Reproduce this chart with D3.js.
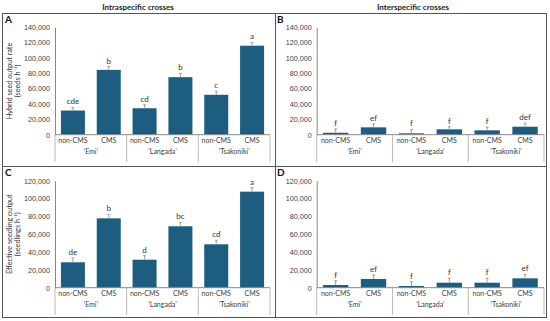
<!DOCTYPE html>
<html>
<head>
<meta charset="utf-8">
<script src="https://cdn.jsdelivr.net/npm/d3@7"></script>
<style>
  body { margin: 0; background: #fff; }
  svg { font-family: Lato, "Open Sans", sans-serif; }
  .tick text { fill: #404040; font-size: 7.2px; }
</style>
</head>
<body>
<script>
// categories
var cultivars = ["\u2018Emi\u2019", "\u2018Langada\u2019", "\u2018Tsakoniki\u2019"];
var types = ["non-CMS", "CMS"];

// A: hybrid seed output rate, intraspecific
var seedIntra = [31500, 84500, 34500, 75000, 52000, 116000];
var seedIntraErr = [4000, 4300, 4500, 5000, 4500, 4500];
var seedIntraLet = ["cde", "b", "cd", "b", "c", "a"];
// B: hybrid seed output rate, interspecific
var seedInter = [2500, 9600, 1800, 7000, 5700, 10400];
var seedInterErr = [5000, 4400, 5000, 3500, 4000, 4400];
var seedInterLet = ["f", "ef", "f", "f", "f", "def"];
// C: effective seedling output, intraspecific
var seedlIntra = [28500, 77800, 31400, 68900, 48700, 107700];
var seedlIntraErr = [5000, 4500, 4500, 4400, 4500, 4400];
var seedlIntraLet = ["de", "b", "d", "bc", "cd", "a"];
// D: effective seedling output, interspecific
var seedlInter = [3000, 9800, 1900, 5600, 5600, 10500];
var seedlInterErr = [4800, 4400, 4800, 4900, 4900, 4500];
var seedlInterLet = ["f", "ef", "f", "f", "f", "ef"];

var topMax = 140000, botMax = 120000;

var width = 550, height = 321;
var barColor = "#1d5e80";

var svg = d3.select("body").append("svg")
    .attr("width", width)
    .attr("height", height);

// frame and dividers
svg.append("rect")
    .attr("x", 2.5).attr("y", 13.5)
    .attr("width", 544).attr("height", 304)
    .attr("fill", "none").attr("stroke", "#555").attr("stroke-width", 1);
svg.append("line").attr("x1", 275.5).attr("x2", 275.5).attr("y1", 13.5).attr("y2", 317.5)
    .attr("stroke", "#555");
svg.append("line").attr("x1", 2.5).attr("x2", 546.5).attr("y1", 166.5).attr("y2", 166.5)
    .attr("stroke", "#555");

// column titles
svg.append("text").attr("x", 138).attr("y", 9.5).attr("text-anchor", "middle")
    .attr("font-size", 8).attr("font-weight", "bold").attr("fill", "#222")
    .text("Intraspecific crosses");
svg.append("text").attr("x", 413).attr("y", 9.5).attr("text-anchor", "middle")
    .attr("font-size", 8).attr("font-weight", "bold").attr("fill", "#222")
    .text("Interspecific crosses");

var panels = [
  {id: "A", vals: seedIntra, err: seedIntraErr, lets: seedIntraLet, max: topMax,
   left: 55, right: 270, top: 27.3, bottom: 134.7, lx: 5, ly: 23, sepEnd: 162,
   ytitle: ["Hybrid seed output rate", "(seeds h\u207B\u00B9)"]},
  {id: "B", vals: seedInter, err: seedInterErr, lets: seedInterLet, max: topMax,
   left: 316.7, right: 544, top: 27.3, bottom: 134.7, lx: 277, ly: 23, sepEnd: 162},
  {id: "C", vals: seedlIntra, err: seedlIntraErr, lets: seedlIntraLet, max: botMax,
   left: 55, right: 270, top: 180.7, bottom: 287.7, lx: 5, ly: 176, sepEnd: 315,
   ytitle: ["Effective seedling output", "(seedlings h\u207B\u00B9)"]},
  {id: "D", vals: seedlInter, err: seedlInterErr, lets: seedlInterLet, max: botMax,
   left: 316.7, right: 544, top: 180.7, bottom: 287.7, lx: 277, ly: 176, sepEnd: 315}
];

panels.forEach(function (p) {
    var rows = [];
    cultivars.forEach(function (c, i) {
        types.forEach(function (t, j) {
            var k = i * 2 + j;
            rows.push({cultivar: c, type: t, v: p.vals[k], e: p.err[k], l: p.lets[k]});
        });
    });

    var x0 = d3.scaleBand().domain(cultivars).range([p.left, p.right]).padding(0);
    var x1 = d3.scaleBand().domain(types).range([0, x0.bandwidth()])
        .paddingInner(0.33).paddingOuter(0.165);
    var y = d3.scaleLinear().domain([0, p.max]).range([p.bottom, p.top]);

    var g = svg.append("g");

    // panel letter
    g.append("text").attr("x", p.lx).attr("y", p.ly)
        .attr("font-size", 10).attr("font-weight", "bold").attr("fill", "#111")
        .text(p.id);

    // y axis
    var yAxis = g.append("g")
        .attr("transform", "translate(" + p.left + ",0)")
        .call(d3.axisLeft(y).tickValues(d3.range(0, p.max + 1, 20000))
            .tickSize(0).tickPadding(5).tickFormat(d3.format(",")));
    yAxis.select(".domain").attr("stroke", "#888");

    // y title
    if (p.ytitle) {
        var cy = (p.top + p.bottom) / 2;
        p.ytitle.forEach(function (s, i) {
            g.append("text")
                .attr("transform", "translate(" + (12 + i * 7.5) + "," + cy + ") rotate(-90)")
                .attr("text-anchor", "middle").attr("font-size", 7.3).attr("fill", "#333")
                .text(s);
        });
    }

    // bars
    g.selectAll(".bar").data(rows).enter().append("rect")
        .attr("class", "bar")
        .attr("x", function (d) { return x0(d.cultivar) + x1(d.type); })
        .attr("y", function (d) { return y(d.v); })
        .attr("width", x1.bandwidth())
        .attr("height", function (d) { return p.bottom - y(d.v); })
        .attr("fill", barColor);

    // error bars (upper only)
    var cx = function (d) { return x0(d.cultivar) + x1(d.type) + x1.bandwidth() / 2; };
    g.selectAll(".err").data(rows).enter().append("line")
        .attr("x1", cx).attr("x2", cx)
        .attr("y1", function (d) { return y(d.v); })
        .attr("y2", function (d) { return y(d.v + d.e); })
        .attr("stroke", "#8a8a8a").attr("stroke-width", 0.8);
    g.selectAll(".cap").data(rows).enter().append("line")
        .attr("x1", function (d) { return cx(d) - 1.5; })
        .attr("x2", function (d) { return cx(d) + 1.5; })
        .attr("y1", function (d) { return y(d.v + d.e); })
        .attr("y2", function (d) { return y(d.v + d.e); })
        .attr("stroke", "#8a8a8a").attr("stroke-width", 0.8);

    // significance letters
    g.selectAll(".let").data(rows).enter().append("text")
        .attr("x", cx)
        .attr("y", function (d) { return y(d.v + d.e) - 3; })
        .attr("text-anchor", "middle").attr("font-size", 8).attr("fill", "#333")
        .text(function (d) { return d.l; });

    // x axis line and group separators
    g.append("line").attr("x1", p.left).attr("x2", p.right)
        .attr("y1", p.bottom).attr("y2", p.bottom).attr("stroke", "#888");
    var seps = cultivars.map(function (c) { return x0(c); }).concat([p.right]);
    g.selectAll(".sep").data(seps).enter().append("line")
        .attr("x1", function (d) { return d; }).attr("x2", function (d) { return d; })
        .attr("y1", p.bottom).attr("y2", p.sepEnd)
        .attr("stroke", "#aaa").attr("stroke-width", 0.8);

    // category labels
    g.selectAll(".cat").data(rows).enter().append("text")
        .attr("x", cx).attr("y", p.bottom + 8.5)
        .attr("text-anchor", "middle").attr("font-size", 7).attr("fill", "#404040")
        .text(function (d) { return d.type; });
    g.selectAll(".grp").data(cultivars).enter().append("text")
        .attr("x", function (d) { return x0(d) + x0.bandwidth() / 2; })
        .attr("y", p.bottom + 19)
        .attr("text-anchor", "middle").attr("font-size", 7).attr("fill", "#404040")
        .text(function (d) { return d; });
});
</script>
</body>
</html>
